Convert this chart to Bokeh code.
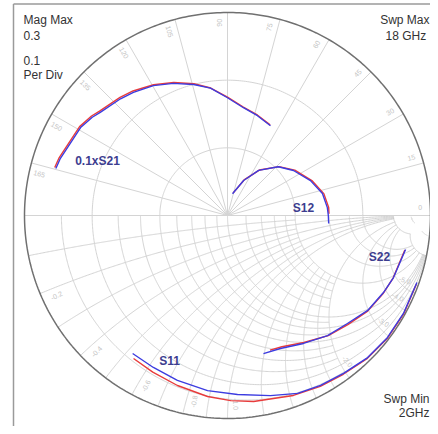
import numpy as np
from bokeh.plotting import figure
from bokeh.models import Range1d
from bokeh.embed import file_html
from bokeh.resources import INLINE
from bokeh.core.properties import value

# ---------------- data ----------------
# polar traces: magnitude (outer circle = Mag Max 0.3) and angle in degrees
s21_mag_blue = [0.263, 0.261, 0.253, 0.247, 0.242, 0.234, 0.229, 0.221, 0.211, 0.200, 0.190, 0.174, 0.161, 0.154, 0.147]
s21_ang_blue = [164.7, 161.1, 149.1, 144.0, 141.0, 132.5, 127.4, 119.7, 112.3, 104.5, 97.6, 90.0, 81.6, 73.3, 64.4]
s21_mag_red = [0.265, 0.263, 0.255, 0.249, 0.244, 0.236, 0.231, 0.222, 0.212, 0.201, 0.190, 0.175, 0.162, 0.155, 0.148]
s21_ang_red = [164.5, 161.0, 149.0, 143.8, 140.8, 132.3, 127.2, 119.5, 112.0, 104.3, 97.5, 90.0, 81.7, 73.5, 64.8]

s12_mag_blue = [0.033, 0.057, 0.081, 0.104, 0.118, 0.133, 0.144, 0.148, 0.149, 0.150]
s12_ang_blue = [77.0, 65.3, 55.4, 43.8, 34.3, 22.8, 13.0, 4.5, 0.0, -4.5]
s12_mag_red = [0.034, 0.058, 0.082, 0.105, 0.120, 0.135, 0.146, 0.150, 0.150]
s12_ang_red = [76.0, 65.0, 55.0, 43.5, 34.0, 22.5, 12.8, 4.5, 1.0]

# Smith chart traces: |Gamma| and angle in degrees
s22_mag_blue = [0.893, 0.873, 0.857, 0.834, 0.795, 0.770, 0.733, 0.705, 0.703]
s22_ang_blue = [-10.8, -20.5, -26.3, -34.1, -42.0, -50.2, -59.3, -68.3, -75.4]
s22_mag_red = [0.890, 0.872, 0.858, 0.836, 0.800, 0.772, 0.730, 0.700, 0.695]
s22_ang_red = [-11.0, -20.7, -26.5, -34.3, -42.2, -50.0, -59.0, -67.5, -72.5]

s11_mag_blue = [0.825, 0.833, 0.849, 0.868, 0.883, 0.912, 0.942, 0.954, 0.965, 0.983, 0.991, 0.992, 0.990]
s11_ang_blue = [-124.5, -116.0, -106.9, -96.5, -86.8, -76.6, -68.5, -61.3, -53.7, -45.4, -37.3, -29.1, -19.5]
s11_mag_red = [0.843, 0.855, 0.873, 0.897, 0.912, 0.925, 0.944, 0.958, 0.968, 0.985, 0.993, 0.994, 0.990]
s11_ang_red = [-123.3, -115.5, -106.4, -96.3, -89.0, -82.0, -69.9, -61.5, -53.9, -45.6, -37.4, -29.2, -20.0]

mag_max = 0.3
mag_per_div = 0.1
polar_angles = [0, 15, 30, 45, 60, 75, 90, 105, 120, 135, 150, 165]
smith_values = [0.1, 0.2, 0.3, 0.4, 0.5, 0.6, 0.7, 0.8, 0.9, 1.0, 1.2, 1.4, 1.6, 1.8, 2.0, 3.0, 4.0, 5.0, 10.0, 20.0]
smith_major = [0.2, 0.4, 0.6, 0.8, 1.0, 2.0, 3.0, 4.0, 5.0, 10.0, 20.0]
smith_labels = [0.2, 0.4, 0.6, 0.8, 1.0, 2.0, 3.0, 4.0, 5.0]

# ---------------- layout ----------------
W, H = 430, 426
CX, CY, RP = 227, 215, 203  # pixel centre and radius


def P(px, py):
    return (px - CX) / RP, (CY - py) / RP


def polar_xy(mag, ang, scale=1.0):
    m = np.asarray(mag, dtype=float) / scale
    a = np.radians(np.asarray(ang, dtype=float))
    return m * np.cos(a), m * np.sin(a)


p = figure(width=W, height=H, output_backend="svg", toolbar_location=None,
           x_range=Range1d(-CX / RP, (W - CX) / RP),
           y_range=Range1d((CY - H) / RP, CY / RP),
           x_axis_type=None, y_axis_type=None, min_border=0)
p.grid.visible = False
p.outline_line_color = None
p.background_fill_color = "white"
p.border_fill_color = "white"

GRID = "#d4d4d4"
xs, ys = [], []
# polar part (upper half)
t = np.linspace(0, np.pi, 200)
for k in range(1, int(round(mag_max / mag_per_div))):
    rr = k * mag_per_div / mag_max
    xs.append(list(rr * np.cos(t))); ys.append(list(rr * np.sin(t)))
for a in polar_angles[1:]:
    ar = np.radians(a)
    xs.append([0, np.cos(ar)]); ys.append([0, np.sin(ar)])
xs.append([-1, 1]); ys.append([0, 0])


def gam(z):
    return (z - 1) / (z + 1)


# Smith part (lower half)
for v in smith_values:
    major = v in smith_major
    clip = 10.0 if major else 2.0
    tt = np.linspace(0, np.arctan(clip), 300)
    g = gam(v - 1j * np.tan(tt))
    xs.append(list(g.real)); ys.append(list(g.imag))
    g2 = gam(np.tan(tt) - 1j * v)
    xs.append(list(g2.real)); ys.append(list(g2.imag))

p.multi_line(xs, ys, line_color=GRID, line_width=1)

# outer circle
tc = np.linspace(0, 2 * np.pi, 400)
p.line(np.cos(tc), np.sin(tc), line_color="#707070", line_width=1.5)

# grid labels
lx, ly, lt, la = [], [], [], []
for a in polar_angles:
    ar = np.radians(a + 2.5)
    lx.append(0.95 * np.cos(ar)); ly.append(0.95 * np.sin(ar))
    lt.append(str(a))
    la.append(np.radians(a if a <= 90 else a - 180))
for v in smith_labels:
    g = gam(-1j * v)
    ph = np.degrees(np.angle(g)) + 2.5
    pr = np.radians(ph)
    lx.append(0.93 * np.cos(pr)); ly.append(0.93 * np.sin(pr))
    lt.append("-%.1f" % v)
    la.append(np.radians(ph + 180 if ph < -90 else ph))
p.text(x=lx, y=ly, text=lt, angle=la, text_font=value("Liberation Sans"),
       text_font_size="7px", text_color="#c4c4c4", text_align="center",
       text_baseline="middle")

# traces
RED, BLUE = "#e83c3c", "#3c3ce0"
for mag, ang, sc, col in [
    (s21_mag_red, s21_ang_red, mag_max, RED), (s21_mag_blue, s21_ang_blue, mag_max, BLUE),
    (s12_mag_red, s12_ang_red, mag_max, RED), (s12_mag_blue, s12_ang_blue, mag_max, BLUE),
    (s22_mag_red, s22_ang_red, 1.0, RED), (s22_mag_blue, s22_ang_blue, 1.0, BLUE),
    (s11_mag_red, s11_ang_red, 1.0, RED), (s11_mag_blue, s11_ang_blue, 1.0, BLUE),
]:
    x, y = polar_xy(mag, ang, sc)
    p.line(x, y, line_color=col, line_width=1.4)

# trace labels
tl = [("0.1xS21", 97, 160), ("S12", 303, 207), ("S22", 379, 256), ("S11", 169, 360)]
p.text(x=[P(a, b)[0] for _, a, b in tl], y=[P(a, b)[1] for _, a, b in tl],
       text=[s for s, _, _ in tl], text_font=value("Liberation Sans"),
       text_font_size="12px", text_font_style="bold", text_color="#3d3d8f",
       text_align="center", text_baseline="middle")

# corner texts
left_t = [("Mag Max", 23, 19), ("%.1f" % mag_max, 23, 35), ("%.1f" % mag_per_div, 23, 60), ("Per Div", 23, 74)]
right_t = [("Swp Max", 429, 19), ("18  GHz", 429, 35), ("Swp Min", 429, 398), ("2GHz", 429, 412)]
for items, al in [(left_t, "left"), (right_t, "right")]:
    p.text(x=[P(a, b)[0] for _, a, b in items], y=[P(a, b)[1] for _, a, b in items],
           text=[s for s, _, _ in items], text_font=value("Liberation Sans"),
           text_font_size="12px", text_color="#333333", text_align=al,
           text_baseline="middle")

# frame
x0, _ = P(13, 0)
_, ytop = P(0, 3.5)
_, ybot = P(0, 428.5)
xr = W / RP
p.line([x0, x0], [ytop, ybot], line_color="#9a9a9a", line_width=1.5)
p.line([x0, xr], [ytop, ytop], line_color="#9a9a9a", line_width=1.5)
p.line([x0, xr], [ybot, ybot], line_color="#808080", line_width=2.5)

open("out.html", "w").write(file_html(p, INLINE))
